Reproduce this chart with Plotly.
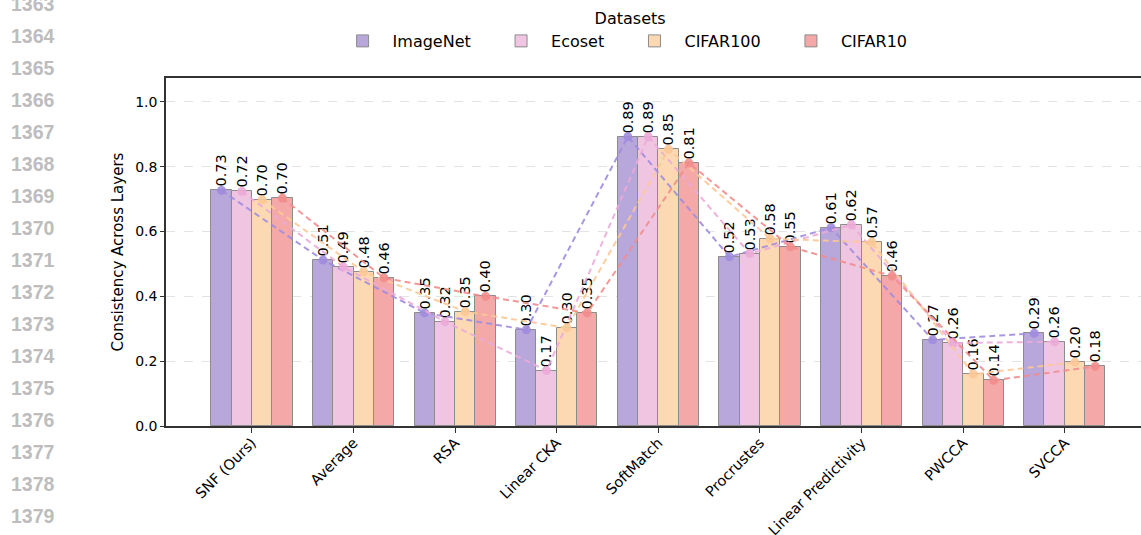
import plotly.graph_objects as go
import numpy as np

categories = ["SNF (Ours)", "Average", "RSA", "Linear CKA", "SoftMatch",
              "Procrustes", "Linear Predictivity", "PWCCA", "SVCCA"]
datasets = ["ImageNet", "Ecoset", "CIFAR100", "CIFAR10"]
imagenet = [0.727, 0.512, 0.349, 0.297, 0.893, 0.522, 0.612, 0.266, 0.286]
ecoset   = [0.724, 0.491, 0.322, 0.171, 0.893, 0.532, 0.621, 0.256, 0.260]
cifar100 = [0.698, 0.476, 0.353, 0.303, 0.854, 0.578, 0.567, 0.160, 0.197]
cifar10  = [0.703, 0.457, 0.400, 0.349, 0.812, 0.553, 0.463, 0.141, 0.184]
series = [imagenet, ecoset, cifar100, cifar10]

bar_colors = ["#B8A7DB", "#EFC5E2", "#FDD9B3", "#F4A8A8"]
line_colors = ["rgba(160,140,222,0.9)", "rgba(236,170,216,0.9)",
               "rgba(252,200,150,0.9)", "rgba(242,140,140,0.9)"]

FONT = "DejaVu Sans"
W, H = 1141, 535
L, R, T, B = 166, 0, 78, 109
bw = 0.2
xc = np.arange(len(categories))

fig = go.Figure()
for j, (name, vals) in enumerate(zip(datasets, series)):
    xs = xc + (j - 1.5) * bw
    fig.add_trace(go.Bar(
        x=xs, y=vals, width=bw, name=name + "\u00a0\u00a0\u00a0",
        marker=dict(color=bar_colors[j], line=dict(color="#8c8c8c", width=1)),
        text=[f"{v:.2f}" for v in vals], textposition="outside", textangle=-90,
        constraintext="none", cliponaxis=False,
        textfont=dict(family=FONT, size=14.5, color="black"),
    ))
for j, (name, vals) in enumerate(zip(datasets, series)):
    xs = xc + (j - 1.5) * bw
    fig.add_trace(go.Scatter(
        x=xs, y=vals, mode="lines+markers", showlegend=False,
        line=dict(color=line_colors[j], width=2, dash="6px,4px"),
        marker=dict(size=9, color=line_colors[j]),
        hoverinfo="skip",
    ))

# page line numbers (gray margin text of the source document)
annotations = []
for k, num in enumerate(range(1363, 1380)):
    py = 4 + k * 32.0
    annotations.append(dict(
        text="<b>%d</b>" % num, xref="paper", yref="paper",
        x=(9 - L) / (W - L - R), y=(H - B - py) / (H - T - B),
        xanchor="left", yanchor="middle", showarrow=False,
        font=dict(family="Liberation Sans", size=19.5, color="#bdbdbd"),
    ))

fig.update_layout(
    width=W, height=H,
    margin=dict(l=L, r=R, t=T, b=B, pad=0, autoexpand=False),
    plot_bgcolor="white", paper_bgcolor="white",
    barmode="overlay", bargap=0,
    font=dict(family=FONT, size=14, color="black"),
    annotations=annotations,
    legend=dict(
        orientation="h", x=0.476, xanchor="center", y=1.215, yanchor="top",
        title=dict(text="Datasets", side="top center",
                   font=dict(family=FONT, size=16)),
        font=dict(family=FONT, size=16), itemwidth=50,
        bgcolor="rgba(0,0,0,0)", traceorder="normal",
    ),
    showlegend=True,
)
fig.update_xaxes(
    range=[-0.846, 8.75], tickmode="array", tickvals=xc, ticktext=categories,
    tickangle=-45, ticks="outside", ticklen=5, tickcolor="#333",
    ticklabelstandoff=-4,
    showline=True, linecolor="#333", linewidth=1.5, mirror=True,
    showgrid=False, zeroline=False,
    tickfont=dict(family=FONT, size=14.5),
)
fig.update_yaxes(
    range=[0, 1.074], tickmode="array", tickvals=[0, 0.2, 0.4, 0.6, 0.8, 1.0],
    ticktext=["0.0", "0.2", "0.4", "0.6", "0.8", "1.0"],
    ticks="outside", ticklen=4, tickcolor="#333",
    showline=True, linecolor="#333", linewidth=1.5,
    showgrid=True, gridcolor="#e3e3e3", griddash="dash", gridwidth=1,
    zeroline=False,
    title=dict(text="Consistency Across Layers", font=dict(family=FONT, size=15), standoff=8),
    tickfont=dict(family=FONT, size=14),
)
fig.write_html(
    "out.html",
    config={"displayModeBar": False},
    post_script="document.body.style.margin='0';document.body.style.overflow='hidden';",
)
